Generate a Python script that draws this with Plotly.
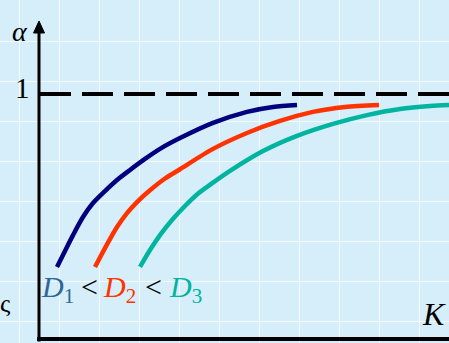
import plotly.graph_objects as go

# curves: K (horizontal) against alpha (vertical), alpha = 1 is the dashed limit
k_d1 = [0.45, 0.65, 0.85, 1.1, 1.35, 1.65, 1.95, 2.275, 2.65, 3.025, 3.525,
        4.35, 5.2, 5.85, 6.45]
a_d1 = [0.294, 0.359, 0.424, 0.498, 0.555, 0.604, 0.649, 0.690, 0.735, 0.776,
        0.820, 0.882, 0.927, 0.947, 0.955]

k_d2 = [1.4, 1.65, 1.95, 2.2, 2.45, 2.775, 3.15, 3.525, 4.35, 5.2, 6.025,
        6.85, 7.65, 8.5]
a_d2 = [0.294, 0.371, 0.457, 0.514, 0.559, 0.607, 0.655, 0.693, 0.776, 0.841,
        0.890, 0.927, 0.947, 0.955]

k_d3 = [2.525, 2.775, 3.025, 3.325, 3.65, 3.95, 4.35, 4.775, 5.6, 6.45, 7.35,
        8.2, 9.025, 9.775, 10.25]
a_d3 = [0.294, 0.363, 0.424, 0.486, 0.543, 0.590, 0.638, 0.686, 0.767, 0.829,
        0.878, 0.914, 0.939, 0.951, 0.955]

curve_colors = ['#00007f', '#ff3300', '#00b4a0']
label_colors = ['#2f6699', '#ff3300', '#00b4a0']

x_range = [-0.975, 10.25]
y_range = [-0.0163, 1.3837]

serif = 'Liberation Serif'

fig = go.Figure()

for ks, als, col in zip([k_d1, k_d2, k_d3], [a_d1, a_d2, a_d3], curve_colors):
    fig.add_trace(go.Scatter(
        x=ks, y=als, mode='lines',
        line=dict(color=col, width=4.5, shape='spline', smoothing=0.8),
        showlegend=False, hoverinfo='skip'
    ))

# axes, arrow and the dashed limit alpha = 1
fig.add_shape(type='line', x0=-0.05, x1=10.3, y0=0, y1=0,
              line=dict(color='black', width=4))
fig.add_shape(type='line', x0=0, x1=0, y0=-0.01, y1=1.26,
              line=dict(color='black', width=3))
fig.add_shape(type='path', path='M -0.1375 1.249 L 0 1.298 L 0.1375 1.249 Z',
              fillcolor='black', line=dict(color='black', width=1))
fig.add_shape(type='line', x0=0.025, x1=10.3, y0=1, y1=1,
              line=dict(color='black', width=4, dash='31px,11px'))

# text
fig.add_annotation(x=-0.475, y=1.257, text='<i>α</i>', showarrow=False,
                   font=dict(family=serif, size=28, color='black'))
fig.add_annotation(x=-0.425, y=1.025, text='1', showarrow=False,
                   font=dict(family=serif, size=29, color='black'))
fig.add_annotation(x=9.875, y=0.102, text='<i>K</i>', showarrow=False,
                   font=dict(family=serif, size=32, color='black'))
fig.add_annotation(x=-0.85, y=0.143, text='ς', showarrow=False,
                   font=dict(family=serif, size=26, color='black'))

label_x = [0.0, 1.55, 3.2]
lt_x = [1.0, 2.6]
names = ['<i>D</i><sub>1</sub>', '<i>D</i><sub>2</sub>', '<i>D</i><sub>3</sub>']
for lx, nm, col in zip(label_x, names, label_colors):
    fig.add_annotation(x=lx, y=0.205, xanchor='left', text=nm,
                       showarrow=False, font=dict(family=serif, size=30, color=col))
for lx in lt_x:
    fig.add_annotation(x=lx, y=0.215, xanchor='left', text='&lt;',
                       showarrow=False, font=dict(family=serif, size=30, color='black'))

grid = 'rgba(255,255,255,0.7)'
fig.update_layout(
    width=449, height=343, autosize=False,
    margin=dict(l=0, r=0, t=0, b=0),
    paper_bgcolor='#d5eef9', plot_bgcolor='#d5eef9',
    xaxis=dict(range=x_range, tick0=0.5, dtick=1, showgrid=True, gridcolor=grid,
               gridwidth=1, zeroline=False, showticklabels=False, ticks=''),
    yaxis=dict(range=y_range, tick0=0.07347, dtick=0.16327, showgrid=True,
               gridcolor=grid, gridwidth=1, zeroline=False, showticklabels=False,
               ticks=''),
)

fig.write_html('out.html', config={'displayModeBar': False},
               post_script="document.body.style.margin='0';")
